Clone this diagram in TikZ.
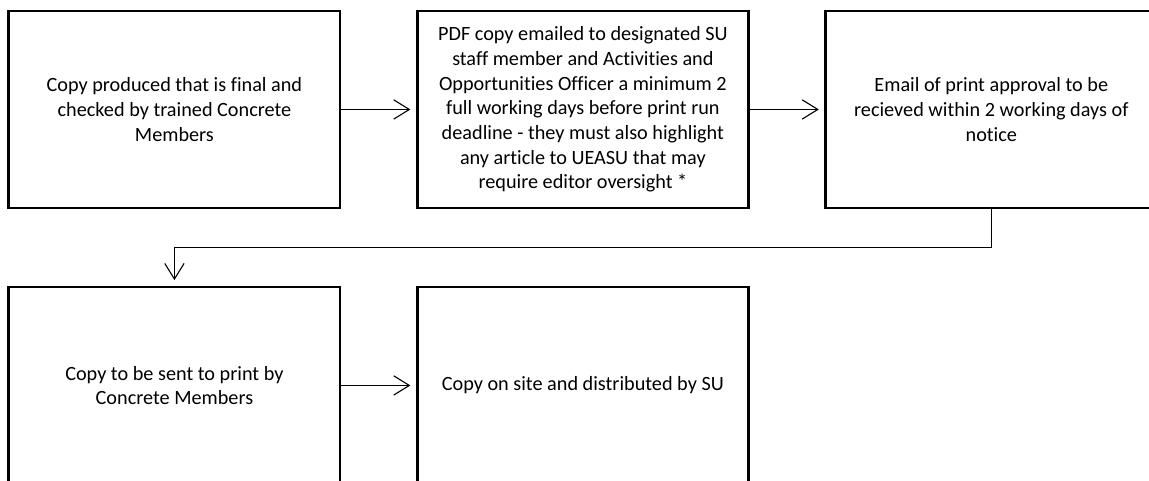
\documentclass[tikz,border=0pt]{standalone}
\usepackage{fontspec}
\setmainfont{Carlito}[Ligatures={NoCommon,NoContextual}]
\usetikzlibrary{arrows.meta}
\tikzset{node distance=222pt, auto,
  >={Straight Barb[length=8.5pt,width=10.5pt]},
  stage/.style={draw, line width=1.5pt, minimum width=180pt, minimum height=107pt,
    align=center, inner sep=0pt, font=\fontsize{11}{13.4}\selectfont},
  flow/.style={->, line width=0.6pt, shorten >=3pt}}

\begin{document}
\begin{tikzpicture}
          \useasboundingbox (0,0) rectangle (624.5pt,-261.4pt);
          \node[stage] (copy) at (94.8pt,-59.5pt) {Copy produced that is final and\\checked by trained Concrete\\Members};
          \node[stage] (pdf) [right of=copy] {PDF copy emailed to designated SU\\staff member and Activities and\\Opportunities Officer a minimum 2\\full working days before print run\\deadline - they must also highlight\\any article to UEASU that may\\require editor oversight *};
          \node[stage] (email) [right of=pdf] {Email of print approval to be\\recieved within 2 working days of\\notice};
          \node[stage] (press) [below of=copy, node distance=150pt] {Copy to be sent to print by\\Concrete Members};
          \node[stage] (site) [right of=press] {Copy on site and distributed by SU};
          \draw[flow] (copy) to (pdf);
          \draw[flow] (pdf) to (email);
          \draw[flow] (email.south) -- ++(0,-20.6pt) -| (press.north);
          \draw[flow] (press) to (site);
        \end{tikzpicture}
\end{document}
